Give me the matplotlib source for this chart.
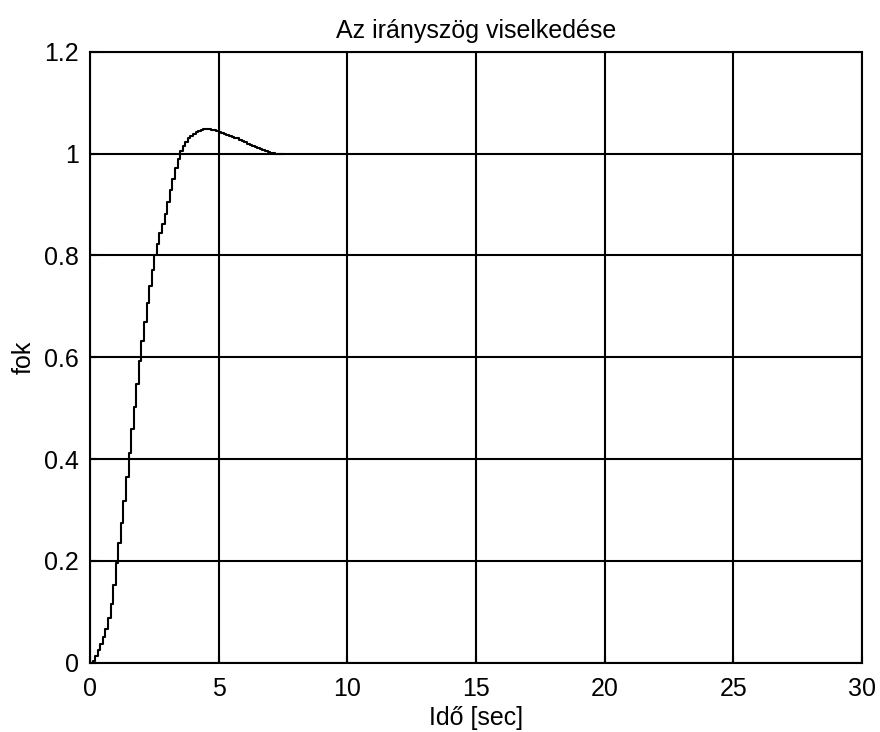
import matplotlib
matplotlib.use('Agg')
import matplotlib.pyplot as plt
import numpy as np

plt.rcParams['font.family'] = ['Liberation Sans', 'DejaVu Sans']

# lépésválasz, 0.1 s mintavétel
dt = 0.1
fok = [0.000, 0.004, 0.013, 0.024, 0.036, 0.050, 0.067, 0.088, 0.115, 0.152,
       0.196, 0.235, 0.274, 0.318, 0.364, 0.412, 0.458, 0.503, 0.548, 0.592,
       0.632, 0.670, 0.707, 0.740, 0.772, 0.800, 0.822, 0.843, 0.862, 0.882,
       0.904, 0.928, 0.950, 0.971, 0.990, 1.004, 1.015, 1.023, 1.030, 1.035,
       1.039, 1.042, 1.045, 1.047, 1.048, 1.048, 1.048, 1.047, 1.046, 1.044,
       1.043, 1.041, 1.039, 1.037, 1.035, 1.033, 1.031, 1.030, 1.027, 1.025,
       1.022, 1.019, 1.016, 1.014, 1.012, 1.010, 1.008, 1.006, 1.004, 1.002,
       1.001, 1.001, 1.000, 1.000, 1.000, 1.000]
ido = np.arange(len(fok)) * dt

xticks = [0, 5, 10, 15, 20, 25, 30]
yticks = [0, 0.2, 0.4, 0.6, 0.8, 1, 1.2]
ytick_labels = ['0', '0.2', '0.4', '0.6', '0.8', '1', '1.2']

fig = plt.figure(figsize=(8.8, 7.32), dpi=100)
ax = fig.add_axes([0.1023, 0.0947, 0.8772, 0.8347])

ax.step(ido, fok, where='post', color='black', lw=1.5)

ax.set_xlim(0, 30)
ax.set_ylim(0, 1.2)
ax.set_xticks(xticks)
ax.set_yticks(yticks)
ax.set_yticklabels(ytick_labels)
ax.grid(True, color='black', linestyle='-', linewidth=1.5)
for s in ax.spines.values():
    s.set_linewidth(1.5)
ax.tick_params(direction='in', length=5, width=1.5, labelsize=18)
ax.tick_params(axis='x', pad=10)
ax.tick_params(axis='y', pad=8)

ax.set_title('Az irányszög viselkedése', fontsize=18, pad=10)
ax.set_xlabel('Idő [sec]', fontsize=18, labelpad=4)
ax.set_ylabel('fok', fontsize=18, labelpad=6)

fig.savefig('out.png', dpi=100)
